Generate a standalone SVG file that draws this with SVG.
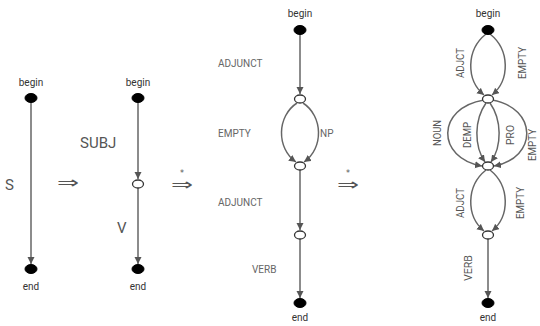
<svg xmlns="http://www.w3.org/2000/svg" width="540" height="326" viewBox="0 0 540 326">
<defs>
<marker id="ah" markerUnits="userSpaceOnUse" markerWidth="8" markerHeight="8" refX="7" refY="3.5" orient="auto">
<path d="M0,0 L7,3.5 L0,7 z" fill="#555"/>
</marker>
<style>
.e{fill:none;stroke:#666;stroke-width:1.5;marker-end:url(#ah)}
.f{fill:#000;stroke:#000;stroke-width:1}
.o{fill:#fff;stroke:#333;stroke-width:1.3}
.t{font-family:Roboto,"Liberation Sans",sans-serif;fill:#333;font-size:10px;text-anchor:middle}
.l{font-family:Roboto,"Liberation Sans",sans-serif;fill:#666;font-size:10px}
.big{font-family:Roboto,"Liberation Sans",sans-serif;fill:#555;font-size:15px}
.r{font-family:Roboto,"Liberation Sans",sans-serif;fill:#555;font-size:11px;text-anchor:middle}
.ar{font-family:"DejaVu Sans",sans-serif;fill:#555;font-size:16px}
.st{font-size:8px}
</style>
</defs>
<g id="connectors">
<line class="e" x1="31" y1="102" x2="31" y2="264"/>
<line class="e" x1="138" y1="102" x2="138" y2="179"/>
<line class="e" x1="138" y1="188" x2="138" y2="264"/>
<line class="e" x1="300" y1="34" x2="300" y2="94"/>
<path class="e" d="M297,103 C277,116 276,148 296,162"/>
<path class="e" d="M303,103 C323,116 324,148 304,162"/>
<line class="e" x1="300" y1="170" x2="300" y2="230"/>
<line class="e" x1="300" y1="239" x2="300" y2="298"/>
<path class="e" d="M486,34 C466,50 466,80 484,95"/>
<path class="e" d="M490,34 C510,50 510,80 492,95"/>
<path class="e" d="M484,100 C436,108 436,158 482,166"/>
<path class="e" d="M486,103 C474,120 474,146 485,162"/>
<path class="e" d="M490,103 C502,120 502,146 491,162"/>
<path class="e" d="M492,100 C538,108 538,158 494,166"/>
<path class="e" d="M486,170 C466,186 466,216 484,231"/>
<path class="e" d="M490,170 C510,186 510,216 492,231"/>
<line class="e" x1="488" y1="239" x2="488" y2="298"/>
</g>
<g id="n-p1-begin"><ellipse class="f" cx="31" cy="98" rx="6" ry="4.5"/><text class="t" x="31" y="86">begin</text></g>
<g id="n-p1-end"><ellipse class="f" cx="31" cy="269" rx="6" ry="4.5"/><text class="t" x="31" y="290">end</text></g>
<g id="n-p2-begin"><ellipse class="f" cx="138" cy="98" rx="6" ry="4.5"/><text class="t" x="138" y="86">begin</text></g>
<g id="n-p2-mid"><ellipse class="o" cx="138" cy="184" rx="5.5" ry="4"/></g>
<g id="n-p2-end"><ellipse class="f" cx="138" cy="269" rx="6" ry="4.5"/><text class="t" x="138" y="290">end</text></g>
<g id="n-p3-begin"><ellipse class="f" cx="300" cy="30" rx="6" ry="4.5"/><text class="t" x="300" y="17">begin</text></g>
<g id="n-p3-1"><ellipse class="o" cx="300" cy="99" rx="5.5" ry="4"/></g>
<g id="n-p3-2"><ellipse class="o" cx="300" cy="166" rx="5.5" ry="4"/></g>
<g id="n-p3-3"><ellipse class="o" cx="300" cy="235" rx="5.5" ry="4"/></g>
<g id="n-p3-end"><ellipse class="f" cx="300" cy="303" rx="6" ry="4.5"/><text class="t" x="300" y="321">end</text></g>
<g id="n-p4-begin"><ellipse class="f" cx="488" cy="30" rx="6" ry="4.5"/><text class="t" x="488" y="17">begin</text></g>
<g id="n-p4-1"><ellipse class="o" cx="488" cy="99" rx="5.5" ry="4"/></g>
<g id="n-p4-2"><ellipse class="o" cx="488" cy="166" rx="5.5" ry="4"/></g>
<g id="n-p4-3"><ellipse class="o" cx="488" cy="235" rx="5.5" ry="4"/></g>
<g id="n-p4-end"><ellipse class="f" cx="488" cy="303" rx="6" ry="4.5"/><text class="t" x="488" y="321">end</text></g>
<g id="labels">
<text class="big" x="5" y="190">S</text>
<text class="big" x="80" y="148">SUBJ</text>
<text class="big" x="117" y="233">V</text>
<text class="l" x="218" y="67">ADJUNCT</text>
<text class="l" x="218" y="137">EMPTY</text>
<text class="l" x="320" y="137">NP</text>
<text class="l" x="218" y="206">ADJUNCT</text>
<text class="l" x="252" y="273">VERB</text>
<text class="r" transform="translate(464,63) rotate(-90)" textLength="30" lengthAdjust="spacingAndGlyphs">ADJCT</text>
<text class="r" transform="translate(526,63) rotate(-90)" textLength="32" lengthAdjust="spacingAndGlyphs">EMPTY</text>
<text class="r" transform="translate(441,133) rotate(-90)" textLength="26" lengthAdjust="spacingAndGlyphs">NOUN</text>
<text class="r" transform="translate(471,135) rotate(-90)" textLength="26" lengthAdjust="spacingAndGlyphs">DEMP</text>
<text class="r" transform="translate(514,135) rotate(-90)" textLength="20" lengthAdjust="spacingAndGlyphs">PRO</text>
<text class="r" transform="translate(536,145) rotate(-90)" textLength="32" lengthAdjust="spacingAndGlyphs">EMPTY</text>
<text class="r" transform="translate(464,203) rotate(-90)" textLength="30" lengthAdjust="spacingAndGlyphs">ADJCT</text>
<text class="r" transform="translate(524,203) rotate(-90)" textLength="32" lengthAdjust="spacingAndGlyphs">EMPTY</text>
<text class="r" transform="translate(472,268) rotate(-90)" textLength="26" lengthAdjust="spacingAndGlyphs">VERB</text>
<text class="ar" x="57" y="188" textLength="22" lengthAdjust="spacingAndGlyphs">⇒</text>
<text class="ar" x="171" y="190"><tspan textLength="22" lengthAdjust="spacingAndGlyphs">⇒</tspan><tspan class="st" x="180" y="176">*</tspan></text>
<text class="ar" x="337" y="190"><tspan textLength="22" lengthAdjust="spacingAndGlyphs">⇒</tspan><tspan class="st" x="346" y="176">*</tspan></text>
</g>
</svg>
